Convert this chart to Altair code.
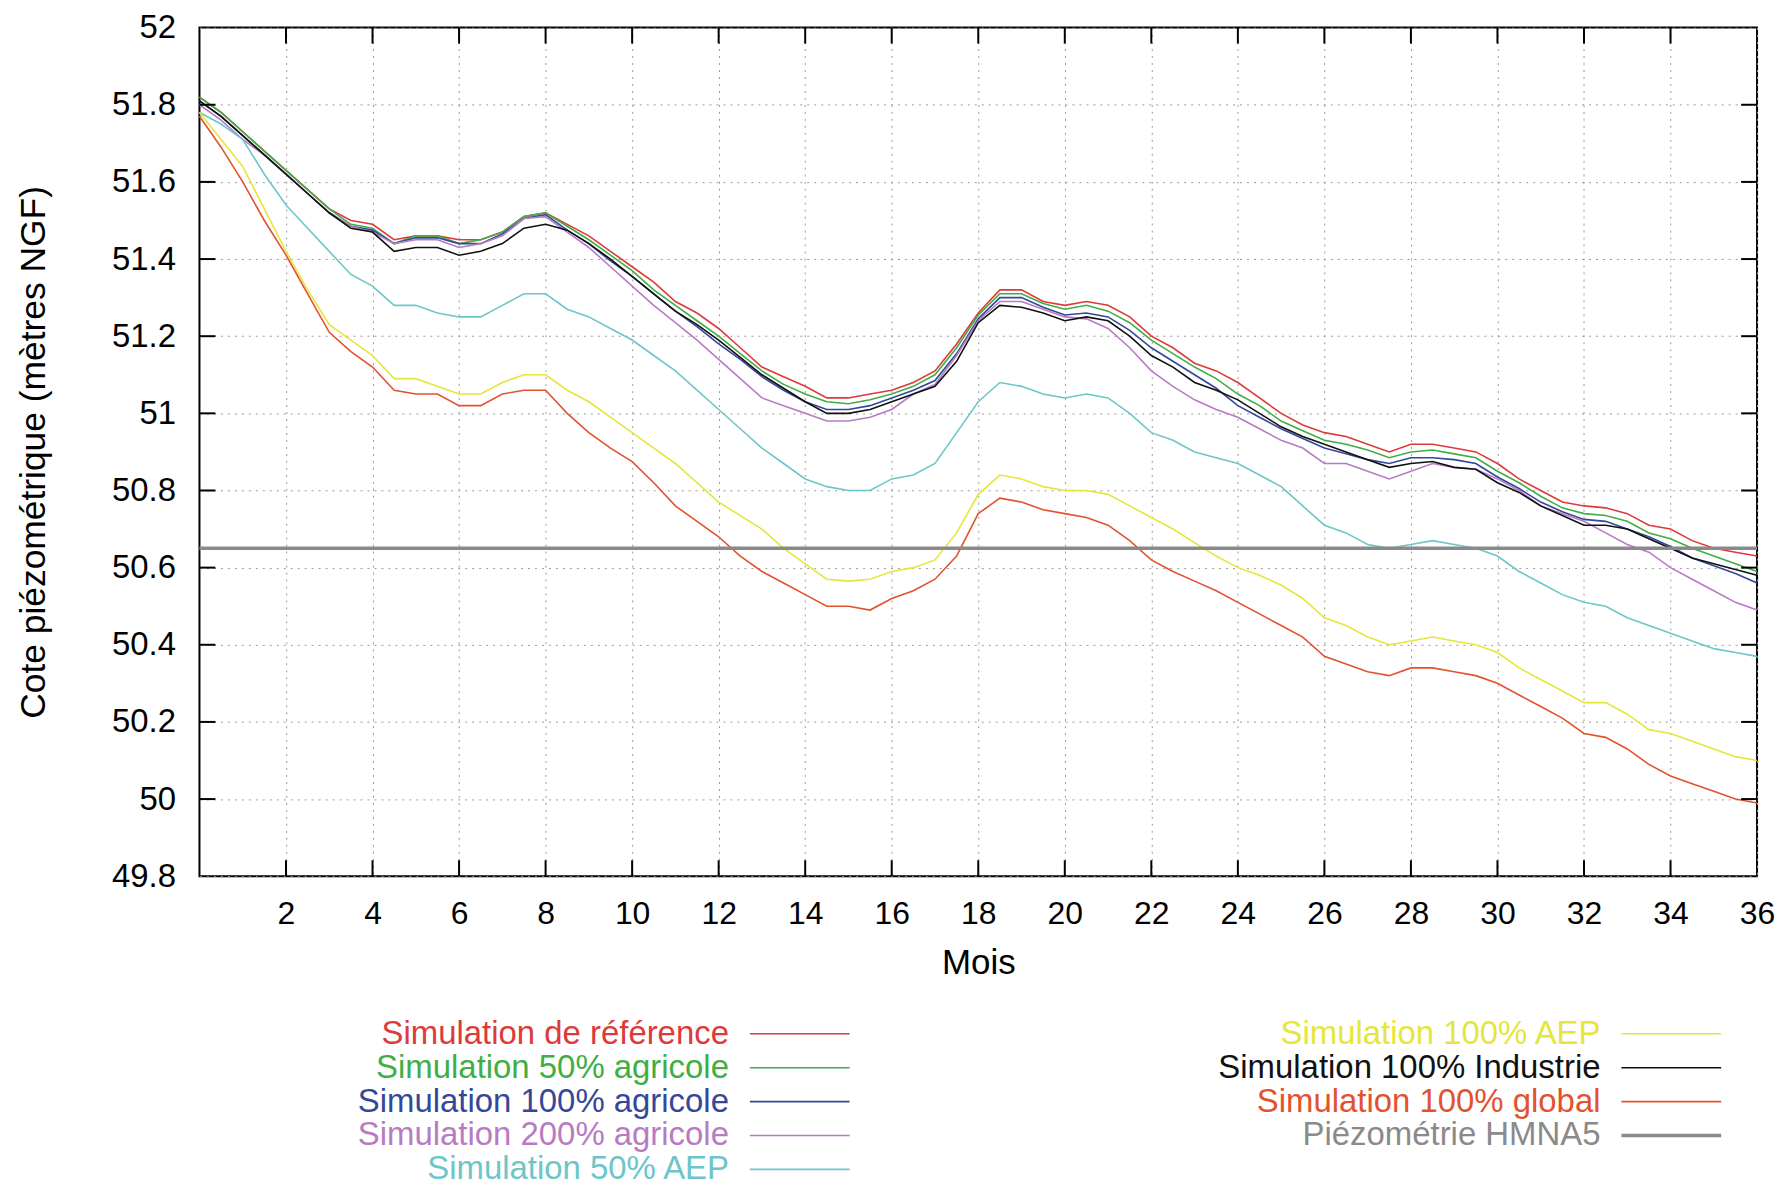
import altair as alt
import pandas as pd

months = [0, 0.5, 1, 1.5, 2, 2.5, 3, 3.5, 4, 4.5, 5, 5.5, 6, 6.5, 7, 7.5, 8, 8.5, 9, 9.5,
          10, 10.5, 11, 11.5, 12, 12.5, 13, 13.5, 14, 14.5, 15, 15.5, 16, 16.5, 17, 17.5,
          18, 18.5, 19, 19.5, 20, 20.5, 21, 21.5, 22, 22.5, 23, 23.5, 24, 24.5, 25, 25.5,
          26, 26.5, 27, 27.5, 28, 28.5, 29, 29.5, 30, 30.5, 31, 31.5, 32, 32.5, 33, 33.5,
          34, 34.5, 35, 35.5, 36]

ref = [51.82, 51.78, 51.73, 51.68, 51.63, 51.58, 51.53, 51.50, 51.49, 51.45,
       51.46, 51.46, 51.45, 51.45, 51.47, 51.51, 51.52, 51.49, 51.46, 51.42,
       51.38, 51.34, 51.29, 51.26, 51.22, 51.17, 51.12, 51.095, 51.07, 51.04,
       51.04, 51.05, 51.06, 51.08, 51.11, 51.18, 51.26, 51.32, 51.32, 51.29,
       51.28, 51.29, 51.28, 51.25, 51.20, 51.17, 51.13, 51.11, 51.08, 51.04,
       51.00, 50.97, 50.95, 50.94, 50.92, 50.90, 50.92, 50.92, 50.91, 50.90,
       50.87, 50.83, 50.80, 50.77, 50.76, 50.755, 50.74, 50.71, 50.70, 50.67,
       50.65, 50.64, 50.63]

agri50 = [51.82, 51.78, 51.73, 51.68, 51.63, 51.58, 51.53, 51.49, 51.48, 51.44,
          51.46, 51.46, 51.44, 51.45, 51.47, 51.51, 51.52, 51.485, 51.45, 51.41,
          51.37, 51.32, 51.28, 51.24, 51.20, 51.155, 51.11, 51.075, 51.05, 51.03,
          51.025, 51.035, 51.05, 51.07, 51.10, 51.17, 51.255, 51.31, 51.31, 51.285,
          51.27, 51.28, 51.265, 51.235, 51.19, 51.155, 51.12, 51.09, 51.05, 51.02,
          50.98, 50.955, 50.93, 50.92, 50.905, 50.885, 50.90, 50.905, 50.895, 50.885,
          50.85, 50.82, 50.785, 50.755, 50.74, 50.735, 50.72, 50.69, 50.675, 50.65,
          50.63, 50.61, 50.59]

agri100 = [51.81, 51.77, 51.72, 51.67, 51.62, 51.57, 51.52, 51.485, 51.475, 51.44,
           51.455, 51.455, 51.44, 51.44, 51.465, 51.505, 51.515, 51.475, 51.44, 51.395,
           51.355, 51.31, 51.265, 51.225, 51.18, 51.14, 51.095, 51.06, 51.03, 51.01,
           51.01, 51.02, 51.04, 51.06, 51.085, 51.155, 51.245, 51.30, 51.30, 51.275,
           51.255, 51.26, 51.25, 51.215, 51.17, 51.135, 51.10, 51.065, 51.02, 50.99,
           50.96, 50.935, 50.91, 50.895, 50.88, 50.87, 50.885, 50.885, 50.88, 50.87,
           50.835, 50.805, 50.77, 50.745, 50.725, 50.72, 50.70, 50.68, 50.655, 50.625,
           50.605, 50.585, 50.56]

agri200 = [51.80, 51.76, 51.71, 51.67, 51.62, 51.57, 51.52, 51.485, 51.47, 51.44,
           51.45, 51.45, 51.43, 51.44, 51.46, 51.505, 51.51, 51.47, 51.43, 51.38,
           51.33, 51.28, 51.235, 51.19, 51.14, 51.09, 51.04, 51.02, 51.00, 50.98,
           50.98, 50.99, 51.01, 51.05, 51.075, 51.15, 51.24, 51.29, 51.29, 51.27,
           51.25, 51.245, 51.22, 51.17, 51.11, 51.07, 51.035, 51.01, 50.99, 50.96,
           50.93, 50.91, 50.87, 50.87, 50.85, 50.83, 50.85, 50.87, 50.86, 50.855,
           50.83, 50.80, 50.76, 50.74, 50.72, 50.69, 50.66, 50.64, 50.60, 50.57,
           50.54, 50.51, 50.49]

aep50 = [51.78, 51.75, 51.71, 51.62, 51.54, 51.48, 51.42, 51.36, 51.33, 51.28,
         51.28, 51.26, 51.25, 51.25, 51.28, 51.31, 51.31, 51.27, 51.25, 51.22,
         51.19, 51.15, 51.11, 51.06, 51.01, 50.96, 50.91, 50.87, 50.83, 50.81,
         50.80, 50.80, 50.83, 50.84, 50.87, 50.95, 51.03, 51.08, 51.07, 51.05,
         51.04, 51.05, 51.04, 51.00, 50.95, 50.93, 50.90, 50.885, 50.87, 50.84,
         50.81, 50.76, 50.71, 50.69, 50.66, 50.65, 50.66, 50.67, 50.66, 50.65,
         50.63, 50.59, 50.56, 50.53, 50.51, 50.50, 50.47, 50.45, 50.43, 50.41,
         50.39, 50.38, 50.37]

aep100 = [51.78, 51.71, 51.64, 51.53, 51.42, 51.32, 51.23, 51.19, 51.15, 51.09,
          51.09, 51.07, 51.05, 51.05, 51.08, 51.10, 51.10, 51.06, 51.03, 50.99,
          50.95, 50.91, 50.87, 50.82, 50.77, 50.735, 50.70, 50.65, 50.61, 50.57,
          50.565, 50.57, 50.59, 50.60, 50.62, 50.69, 50.79, 50.84, 50.83, 50.81,
          50.80, 50.80, 50.79, 50.76, 50.73, 50.70, 50.665, 50.63, 50.60, 50.58,
          50.555, 50.52, 50.47, 50.45, 50.42, 50.40, 50.41, 50.42, 50.41, 50.40,
          50.38, 50.34, 50.31, 50.28, 50.25, 50.25, 50.22, 50.18, 50.17, 50.15,
          50.13, 50.11, 50.10]

industrie = [51.81, 51.77, 51.72, 51.67, 51.62, 51.57, 51.52, 51.48, 51.47, 51.42,
             51.43, 51.43, 51.41, 51.42, 51.44, 51.48, 51.49, 51.475, 51.44, 51.40,
             51.355, 51.31, 51.265, 51.23, 51.19, 51.145, 51.10, 51.065, 51.03, 51.00,
             51.00, 51.01, 51.03, 51.05, 51.07, 51.135, 51.235, 51.28, 51.275, 51.26,
             51.24, 51.25, 51.24, 51.20, 51.15, 51.12, 51.08, 51.06, 51.035, 51.00,
             50.965, 50.94, 50.92, 50.90, 50.88, 50.86, 50.87, 50.875, 50.86, 50.855,
             50.82, 50.795, 50.76, 50.735, 50.71, 50.71, 50.70, 50.675, 50.65, 50.625,
             50.61, 50.595, 50.58]

global100 = [51.77, 51.69, 51.60, 51.50, 51.41, 51.31, 51.21, 51.16, 51.12, 51.06,
             51.05, 51.05, 51.02, 51.02, 51.05, 51.06, 51.06, 51.00, 50.95, 50.91,
             50.875, 50.82, 50.76, 50.72, 50.68, 50.63, 50.59, 50.56, 50.53, 50.50,
             50.50, 50.49, 50.52, 50.54, 50.57, 50.63, 50.74, 50.78, 50.77, 50.75,
             50.74, 50.73, 50.71, 50.67, 50.62, 50.59, 50.565, 50.54, 50.51, 50.48,
             50.45, 50.42, 50.37, 50.35, 50.33, 50.32, 50.34, 50.34, 50.33, 50.32,
             50.30, 50.27, 50.24, 50.21, 50.17, 50.16, 50.13, 50.09, 50.06, 50.04,
             50.02, 50.00, 49.99]

hmna5_level = [50.65]

names = ["Simulation de référence", "Simulation 50% agricole", "Simulation 100% agricole",
         "Simulation 200% agricole", "Simulation 50% AEP", "Simulation 100% AEP",
         "Simulation 100% Industrie", "Simulation 100% global", "Piézométrie HMNA5"]
colors = ["#dd3a3a", "#3fae45", "#34479a", "#b97ac4", "#6cc6c8", "#e6e63a",
          "#111111", "#e2522e", "#8a8a8a"]

x_ticks = [2, 4, 6, 8, 10, 12, 14, 16, 18, 20, 22, 24, 26, 28, 30, 32, 34, 36]
y_ticks = [49.8, 50.0, 50.2, 50.4, 50.6, 50.8, 51.0, 51.2, 51.4, 51.6, 51.8, 52.0]

series = [ref, agri50, agri100, agri200, aep50, aep100, industrie, global100]
rows = []
for nm, vals in zip(names[:8], series):
    for m, v in zip(months, vals):
        rows.append({"month": m, "value": v, "name": nm})
df = pd.DataFrame(rows)

FONT = "Liberation Sans"
color_scale = alt.Scale(domain=names, range=colors)
xs = alt.Scale(domain=[0, 36], nice=False, zero=False)
ys = alt.Scale(domain=[49.8, 52], nice=False, zero=False)

x_axis = alt.Axis(values=x_ticks, title="Mois", grid=True, ticks=False, tickSize=0,
                  domain=False, labelPadding=22, labelFlush=False, labelFontSize=32,
                  titleFontSize=35, titlePadding=17, titleFontWeight="normal",
                  labelColor="black", titleColor="black", labelFont=FONT, titleFont=FONT,
                  gridDash=[2, 5], gridColor="#9a9a9a", gridWidth=1, labelOverlap=False)
y_axis = alt.Axis(values=y_ticks, format=".1~f", title="Cote piézométrique (mètres NGF)",
                  grid=True, ticks=False, tickSize=0, domain=False, labelPadding=24,
                  labelFontSize=33, titleFontSize=35.5, titlePadding=60,
                  titleFontWeight="normal", labelColor="black", titleColor="black",
                  labelFont=FONT, titleFont=FONT, gridDash=[2, 5], gridColor="#9a9a9a",
                  gridWidth=1, labelOverlap=False)

layers = []
for nm in names[:8]:
    layers.append(
        alt.Chart(df).transform_filter(alt.datum.name == nm)
        .mark_line(strokeWidth=1.6)
        .encode(x=alt.X("month:Q", scale=xs, axis=x_axis),
                y=alt.Y("value:Q", scale=ys, axis=y_axis),
                color=alt.Color("name:N", scale=color_scale, legend=None))
    )

hm = alt.Chart(pd.DataFrame({"name": [names[8]], "value": hmna5_level})).mark_rule(
    strokeWidth=3.5).encode(
    y=alt.Y("value:Q", scale=ys, axis=y_axis),
    color=alt.Color("name:N", scale=color_scale, legend=None))
layers.append(hm)

tick_x = pd.DataFrame({"month": x_ticks[:-1]})
tick_y = pd.DataFrame({"value": y_ticks[1:-1]})
TL = 16
bottom_ticks = alt.Chart(tick_x).mark_rule(color="black", strokeWidth=2, y2Offset=-TL).encode(
    x=alt.X("month:Q", scale=xs, axis=x_axis),
    y=alt.YDatum(49.8, scale=ys, axis=y_axis), y2=alt.Y2Datum(49.8))
top_ticks = alt.Chart(tick_x).mark_rule(color="black", strokeWidth=2, y2Offset=TL).encode(
    x=alt.X("month:Q", scale=xs, axis=x_axis),
    y=alt.YDatum(52, scale=ys, axis=y_axis), y2=alt.Y2Datum(52))
left_ticks = alt.Chart(tick_y).mark_rule(color="black", strokeWidth=2, x2Offset=TL).encode(
    y=alt.Y("value:Q", scale=ys, axis=y_axis),
    x=alt.XDatum(0, scale=xs, axis=x_axis), x2=alt.X2Datum(0))
right_ticks = alt.Chart(tick_y).mark_rule(color="black", strokeWidth=2, x2Offset=-TL).encode(
    y=alt.Y("value:Q", scale=ys, axis=y_axis),
    x=alt.XDatum(36, scale=xs, axis=x_axis), x2=alt.X2Datum(36))
layers += [bottom_ticks, top_ticks, left_ticks, right_ticks]

main = alt.layer(*layers).properties(
    width=1562, height=851,
    view=alt.ViewBackground(stroke="black", strokeWidth=2))

# legend (two columns: text right-aligned, then a line sample)
leg_df = pd.DataFrame({"name": names,
                       "col": [i // 5 for i in range(len(names))],
                       "row": [i % 5 for i in range(len(names))]})
lx = alt.Scale(domain=[0, 1], range=[531, 1405])
ly = alt.Scale(domain=[0, 4], range=[43, 179])
leg_text = alt.Chart(leg_df).mark_text(align="right", baseline="middle", fontSize=33,
                                       font=FONT).encode(
    x=alt.X("col:Q", scale=lx, axis=None),
    y=alt.Y("row:Q", scale=ly, axis=None),
    text="name:N",
    color=alt.Color("name:N", scale=color_scale, legend=None))
leg_line = alt.Chart(leg_df).mark_rule(xOffset=21, x2Offset=121).encode(
    x=alt.X("col:Q", scale=lx, axis=None), x2="col:Q",
    y=alt.Y("row:Q", scale=ly, axis=None),
    color=alt.Color("name:N", scale=color_scale, legend=None),
    strokeWidth=alt.condition(alt.datum.name == "Piézométrie HMNA5",
                              alt.value(3.5), alt.value(1.6)))
legend = alt.layer(leg_text, leg_line).properties(
    width=1562, height=179, view=alt.ViewBackground(stroke="transparent"))

chart = alt.vconcat(main, legend, spacing=8).properties(
    padding={"left": 7, "top": 1, "right": 0, "bottom": 0}
).configure(font=FONT)

chart.save("out.html", embed_options={"renderer": "svg", "actions": False})
